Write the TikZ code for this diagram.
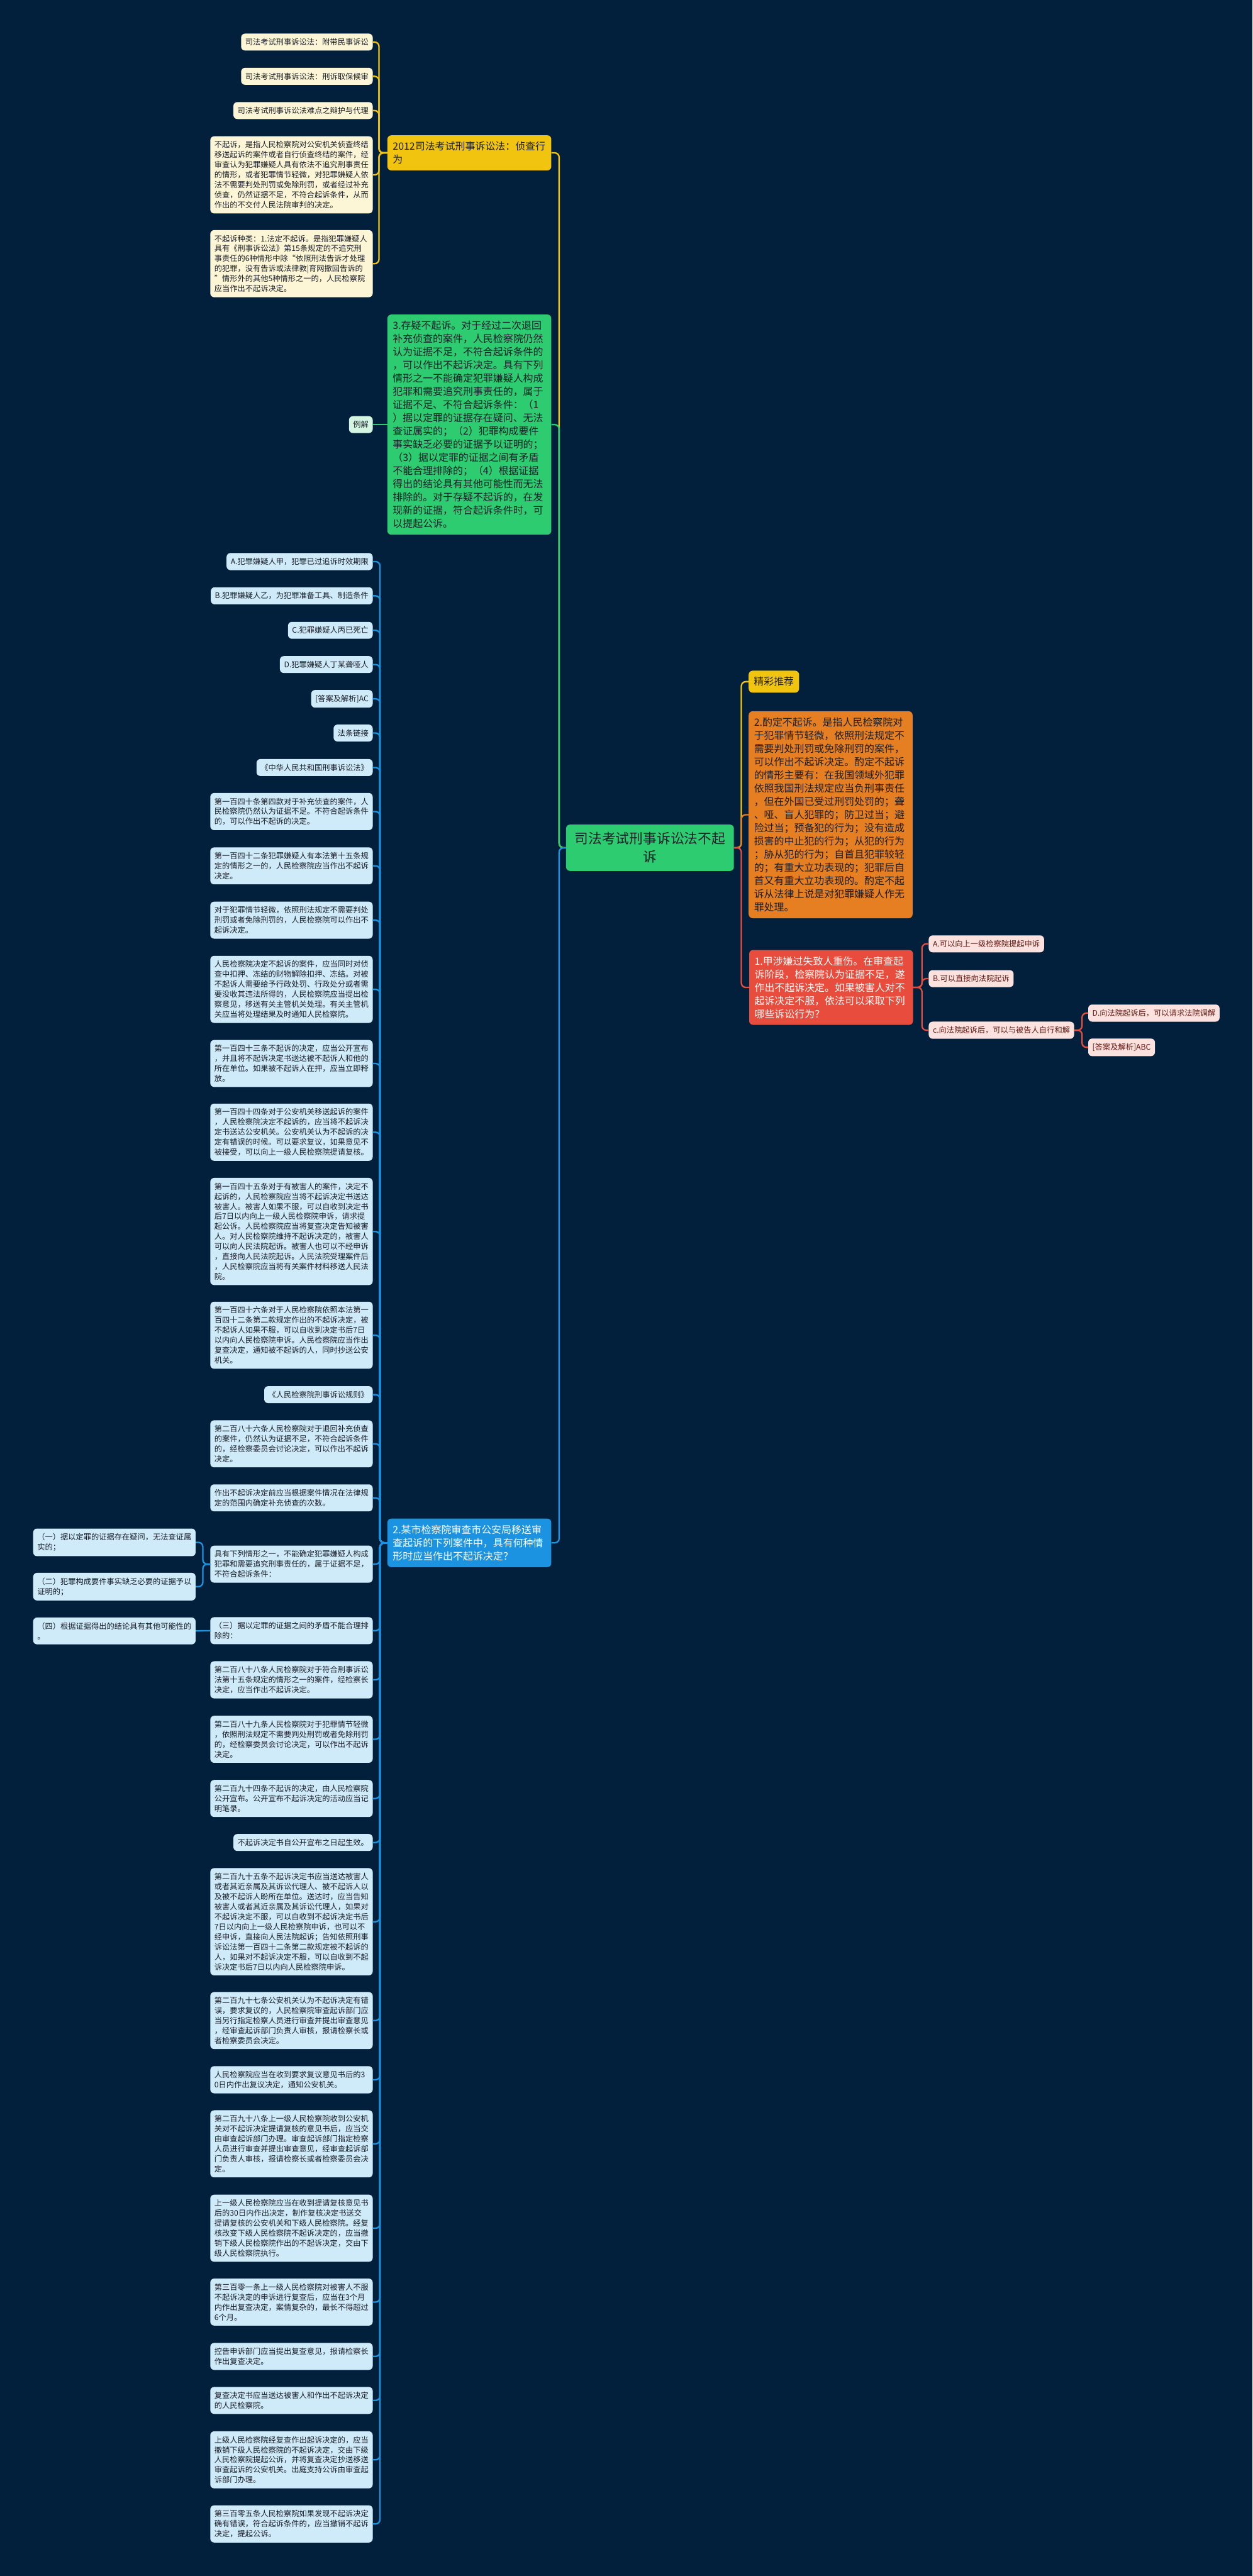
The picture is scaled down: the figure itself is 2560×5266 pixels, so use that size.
\documentclass[tikz,border=0pt]{standalone}
\usepackage{fontspec}
\newfontfamily\cjk{Noto Sans CJK SC}
\usetikzlibrary{positioning}

\definecolor{bgnavy}{RGB}{2,32,60}
\definecolor{mmgreen}{RGB}{46,204,113}
\definecolor{mmyellow}{RGB}{241,196,15}
\definecolor{mmblue}{RGB}{28,147,224}
\definecolor{mmorange}{RGB}{230,126,34}
\definecolor{mmred}{RGB}{231,76,60}
\definecolor{leafblue}{RGB}{207,234,249}
\definecolor{leafcream}{RGB}{253,246,214}
\definecolor{leafpink}{RGB}{252,226,222}
\definecolor{leafgreen}{RGB}{213,245,227}
\definecolor{inkdark}{RGB}{25,30,40}
\definecolor{inkred}{RGB}{95,25,20}

\begin{document}
\begin{tikzpicture}[x=1pt,y=-1pt,
  box/.style={rounded corners=8pt,inner xsep=8.5pt,inner ysep=10pt,
    font=\cjk\fontsize{15.75}{20.5}\selectfont,text=inkdark},
  para/.style={box,text width=315pt,align=left},
  bluebox/.style={box,fill=leafblue,anchor=east},
  bluepara/.style={para,fill=leafblue,anchor=east},
  creambox/.style={box,fill=leafcream,anchor=east},
  creampara/.style={para,fill=leafcream,anchor=east},
  pinkbox/.style={box,fill=leafpink,text=inkred,anchor=west},
  bigtext/.style={rounded corners=8pt,inner xsep=11pt,inner ysep=13pt,
    font=\cjk\fontsize{20.5}{27}\selectfont,text=inkdark},
  topic/.style={bigtext,text width=313pt,align=left},
  link/.style={line width=3pt,rounded corners=9pt}]

\fill[bgnavy] (0,0) rectangle (2560,5266);
\useasboundingbox (0,0) rectangle (2560,5266);

% centre
\node[bigtext,fill=mmgreen,text width=309pt,align=center,inner xsep=17pt,inner ysep=16pt,
  font=\cjk\fontsize{28}{37}\selectfont] (root) at (1328.5,1733) {司法考试刑事诉讼法不起\\诉};

% left: yellow branch
\node[topic,fill=mmyellow,anchor=east] (y_0) at (1127,312.5) {2012司法考试刑事诉讼法：侦查行\\为};
\node[creambox] (y_1) at (762,86) {司法考试刑事诉讼法：附带民事诉讼};
\node[creambox] (y_2) at (762,156) {司法考试刑事诉讼法：刑诉取保候审};
\node[creambox] (y_3) at (762,226) {司法考试刑事诉讼法难点之辩护与代理};
\node[creampara] (y_4) at (762,357.5) {不起诉，是指人民检察院对公安机关侦查终结\\移送起诉的案件或者自行侦查终结的案件，经\\审查认为犯罪嫌疑人具有依法不追究刑事责任\\的情形，或者犯罪情节轻微，对犯罪嫌疑人依\\法不需要判处刑罚或免除刑罚，或者经过补充\\侦查，仍然证据不足，不符合起诉条件，从而\\作出的不交付人民法院审判的决定。};
\node[creampara] (y_5) at (762,539) {不起诉种类：1.法定不起诉。是指犯罪嫌疑人\\具有《刑事诉讼法》第15条规定的不追究刑\\事责任的6种情形中除“依照刑法告诉才处理\\的犯罪，没有告诉或法律教|育网撤回告诉的\\”情形外的其他5种情形之一的，人民检察院\\应当作出不起诉决定。};

% left: green branch
\node[topic,fill=mmgreen,anchor=east] (g_0) at (1127,868) {3.存疑不起诉。对于经过二次退回\\补充侦查的案件，人民检察院仍然\\认为证据不足，不符合起诉条件的\\，可以作出不起诉决定。具有下列\\情形之一不能确定犯罪嫌疑人构成\\犯罪和需要追究刑事责任的，属于\\证据不足、不符合起诉条件：（1\\）据以定罪的证据存在疑问、无法\\查证属实的；（2）犯罪构成要件\\事实缺乏必要的证据予以证明的；\\（3）据以定罪的证据之间有矛盾\\不能合理排除的；（4）根据证据\\得出的结论具有其他可能性而无法\\排除的。对于存疑不起诉的，在发\\现新的证据，符合起诉条件时，可\\以提起公诉。};
\node[box,fill=leafgreen,anchor=east] (l_0) at (762,868) {例解};

% left: blue branch
\node[topic,fill=mmblue,text=white,anchor=east] (b_0) at (1127,3154) {2.某市检察院审查市公安局移送审\\查起诉的下列案件中，具有何种情\\形时应当作出不起诉决定？};
\node[bluebox] (b_1) at (762,1148) {A.犯罪嫌疑人甲，犯罪已过追诉时效期限};
\node[bluebox] (b_2) at (762,1218) {B.犯罪嫌疑人乙，为犯罪准备工具、制造条件};
\node[bluebox] (b_3) at (762,1288.5) {C.犯罪嫌疑人丙已死亡};
\node[bluebox] (b_4) at (762,1358.5) {D.犯罪嫌疑人丁某聋哑人};
\node[bluebox] (b_5) at (762,1428.5) {[答案及解析]AC};
\node[bluebox] (b_6) at (762,1498.5) {法条链接};
\node[bluebox] (b_7) at (762,1569) {《中华人民共和国刑事诉讼法》};
\node[bluepara] (b_8) at (762,1659) {第一百四十条第四款对于补充侦查的案件，人\\民检察院仍然认为证据不足。不符合起诉条件\\的，可以作出不起诉的决定。};
\node[bluepara] (b_9) at (762,1770) {第一百四十二条犯罪嫌疑人有本法第十五条规\\定的情形之一的，人民检察院应当作出不起诉\\决定。};
\node[bluepara] (b_10) at (762,1881) {对于犯罪情节轻微，依照刑法规定不需要判处\\刑罚或者免除刑罚的，人民检察院可以作出不\\起诉决定。};
\node[bluepara] (b_11) at (762,2022.5) {人民检察院决定不起诉的案件，应当同时对侦\\查中扣押、冻结的财物解除扣押、冻结。对被\\不起诉人需要给予行政处罚、行政处分或者需\\要没收其违法所得的，人民检察院应当提出检\\察意见，移送有关主管机关处理。有关主管机\\关应当将处理结果及时通知人民检察院。};
\node[bluepara] (b_12) at (762,2174) {第一百四十三条不起诉的决定，应当公开宣布\\，并且将不起诉决定书送达被不起诉人和他的\\所在单位。如果被不起诉人在押，应当立即释\\放。};
\node[bluepara] (b_13) at (762,2314.5) {第一百四十四条对于公安机关移送起诉的案件\\，人民检察院决定不起诉的，应当将不起诉决\\定书送达公安机关。公安机关认为不起诉的决\\定有错误的时候。可以要求复议，如果意见不\\被接受，可以向上一级人民检察院提请复核。};
\node[bluepara] (b_14) at (762,2517.5) {第一百四十五条对于有被害人的案件，决定不\\起诉的，人民检察院应当将不起诉决定书送达\\被害人。被害人如果不服，可以自收到决定书\\后7日以内向上一级人民检察院申诉，请求提\\起公诉。人民检察院应当将复查决定告知被害\\人。对人民检察院维持不起诉决定的，被害人\\可以向人民法院起诉。被害人也可以不经申诉\\，直接向人民法院起诉。人民法院受理案件后\\，人民检察院应当将有关案件材料移送人民法\\院。};
\node[bluepara] (b_15) at (762,2729.5) {第一百四十六条对于人民检察院依照本法第一\\百四十二条第二款规定作出的不起诉决定，被\\不起诉人如果不服，可以自收到决定书后7日\\以内向人民检察院申诉。人民检察院应当作出\\复查决定，通知被不起诉的人，同时抄送公安\\机关。};
\node[bluebox] (b_16) at (762,2851) {《人民检察院刑事诉讼规则》};
\node[bluepara] (b_17) at (762,2951.5) {第二百八十六条人民检察院对于退回补充侦查\\的案件，仍然认为证据不足，不符合起诉条件\\的，经检察委员会讨论决定，可以作出不起诉\\决定。};
\node[bluepara] (b_18) at (762,3062) {作出不起诉决定前应当根据案件情况在法律规\\定的范围内确定补充侦查的次数。};
\node[bluepara] (b_19) at (762,3197.5) {具有下列情形之一，不能确定犯罪嫌疑人构成\\犯罪和需要追究刑事责任的，属于证据不足，\\不符合起诉条件：};
\node[bluepara] (b_20) at (762,3333.5) {（三）据以定罪的证据之间的矛盾不能合理排\\除的：};
\node[bluepara] (b_21) at (762,3434) {第二百八十八条人民检察院对于符合刑事诉讼\\法第十五条规定的情形之一的案件，经检察长\\决定，应当作出不起诉决定。};
\node[bluepara] (b_22) at (762,3555.5) {第二百八十九条人民检察院对于犯罪情节轻微\\，依照刑法规定不需要判处刑罚或者免除刑罚\\的，经检察委员会讨论决定，可以作出不起诉\\决定。};
\node[bluepara] (b_23) at (762,3676.5) {第二百九十四条不起诉的决定，由人民检察院\\公开宣布。公开宣布不起诉决定的活动应当记\\明笔录。};
\node[bluebox] (b_24) at (762,3766.5) {不起诉决定书自公开宣布之日起生效。};
\node[bluepara] (b_25) at (762,3928.5) {第二百九十五条不起诉决定书应当送达被害人\\或者其近亲属及其诉讼代理人、被不起诉人以\\及被不起诉人盼所在单位。送达时，应当告知\\被害人或者其近亲属及其诉讼代理人，如果对\\不起诉决定不服，可以自收到不起诉决定书后\\7日以内向上一级人民检察院申诉，也可以不\\经申诉，直接向人民法院起诉；告知依照刑事\\诉讼法第一百四十二条第二款规定被不起诉的\\人，如果对不起诉决定不服，可以自收到不起\\诉决定书后7日以内向人民检察院申诉。};
\node[bluepara] (b_26) at (762,4130.5) {第二百九十七条公安机关认为不起诉决定有错\\误，要求复议的，人民检察院审查起诉部门应\\当另行指定检察人员进行审查并提出审查意见\\，经审查起诉部门负责人审核，报请检察长或\\者检察委员会决定。};
\node[bluepara] (b_27) at (762,4251.5) {人民检察院应当在收到要求复议意见书后的3\\0日内作出复议决定，通知公安机关。};
\node[bluepara] (b_28) at (762,4382.5) {第二百九十八条上一级人民检察院收到公安机\\关对不起诉决定提请复核的意见书后，应当交\\由审查起诉部门办理。审查起诉部门指定检察\\人员进行审查并提出审查意见，经审查起诉部\\门负责人审核，报请检察长或者检察委员会决\\定。};
\node[bluepara] (b_29) at (762,4555) {上一级人民检察院应当在收到提请复核意见书\\后的30日内作出决定，制作复核决定书送交\\提请复核的公安机关和下级人民检察院。经复\\核改变下级人民检察院不起诉决定的，应当撤\\销下级人民检察院作出的不起诉决定，交由下\\级人民检察院执行。};
\node[bluepara] (b_30) at (762,4706) {第三百零一条上一级人民检察院对被害人不服\\不起诉决定的申诉进行复查后，应当在3个月\\内作出复查决定，案情复杂的，最长不得超过\\6个月。};
\node[bluepara] (b_31) at (762,4817) {控告申诉部门应当提出复查意见，报请检察长\\作出复查决定。};
\node[bluepara] (b_32) at (762,4907) {复查决定书应当送达被害人和作出不起诉决定\\的人民检察院。};
\node[bluepara] (b_33) at (762,5028.5) {上级人民检察院经复查作出起诉决定的，应当\\撤销下级人民检察院的不起诉决定，交由下级\\人民检察院提起公诉，并将复查决定抄送移送\\审查起诉的公安机关。出庭支持公诉由审查起\\诉部门办理。};
\node[bluepara] (b_34) at (762,5159.5) {第三百零五条人民检察院如果发现不起诉决定\\确有错误，符合起诉条件的，应当撤销不起诉\\决定，提起公诉。};
\node[bluepara] (s_1) at (400,3153) {（一）据以定罪的证据存在疑问，无法查证属\\实的；};
\node[bluepara] (s_2) at (400,3243.5) {（二）犯罪构成要件事实缺乏必要的证据予以\\证明的；};
\node[bluepara] (s_3) at (400,3334) {（四）根据证据得出的结论具有其他可能性的\\。};

% right side
\node[bigtext,fill=mmyellow,anchor=west,inner xsep=10.5pt] (j_0) at (1530,1393.5) {精彩推荐};
\node[topic,fill=mmorange,anchor=west] (o_0) at (1530,1665.5) {2.酌定不起诉。是指人民检察院对\\于犯罪情节轻微，依照刑法规定不\\需要判处刑罚或免除刑罚的案件，\\可以作出不起诉决定。酌定不起诉\\的情形主要有：在我国领域外犯罪\\依照我国刑法规定应当负刑事责任\\，但在外国已受过刑罚处罚的；聋\\、哑、盲人犯罪的；防卫过当；避\\险过当；预备犯的行为；没有造成\\损害的中止犯的行为；从犯的行为\\；胁从犯的行为；自首且犯罪较轻\\的；有重大立功表现的；犯罪后自\\首又有重大立功表现的。酌定不起\\诉从法律上说是对犯罪嫌疑人作无\\罪处理。};
\node[topic,fill=mmred,text=white,anchor=west] (r_0) at (1531,2018.5) {1.甲涉嫌过失致人重伤。在审查起\\诉阶段，检察院认为证据不足，遂\\作出不起诉决定。如果被害人对不\\起诉决定不服，依法可以采取下列\\哪些诉讼行为？};
\node[pinkbox] (r_a) at (1898,1929.5) {A.可以向上一级检察院提起申诉};
\node[pinkbox] (r_b) at (1898,2000.5) {B.可以直接向法院起诉};
\node[pinkbox] (r_c) at (1898,2106) {c.向法院起诉后，可以与被告人自行和解};
\node[pinkbox] (r_d) at (2224,2071) {D.向法院起诉后，可以请求法院调解};
\node[pinkbox] (r_e) at (2224,2141) {[答案及解析]ABC};

% connectors
\draw[link,mmyellow] (root.west) -- ++(-14,0) |- (y_0.east);
\draw[link,mmgreen] (root.west) -- ++(-14,0) |- (g_0.east);
\draw[link,mmblue] (root.west) -- ++(-14,0) |- (b_0.east);
\draw[link,mmyellow] (root.east) -- ++(15,0) |- (j_0.west);
\draw[link,mmorange] (root.east) -- ++(15,0) |- (o_0.west);
\draw[link,mmred] (root.east) -- ++(15,0) |- (r_0.west);
\foreach \k in {1,...,5}
  \draw[link,mmyellow] (y_0.west) -- ++(-17,0) |- (y_\k.east);
\draw[link,mmgreen] (g_0.west) -- (l_0.east);
\foreach \k in {1,...,34}
  \draw[link,mmblue] (b_0.west) -- ++(-15,0) |- (b_\k.east);
\foreach \k in {1,2}
  \draw[link,mmblue] (b_19.west) -- ++(-15,0) |- (s_\k.east);
\draw[link,mmblue] (b_20.west) -- (s_3.east);
\foreach \k in {a,b,c}
  \draw[link,mmred] (r_0.east) -- ++(18,0) |- (r_\k.west);
\foreach \k in {d,e}
  \draw[link,mmred] (r_c.east) -- ++(16,0) |- (r_\k.west);
\end{tikzpicture}
\end{document}
